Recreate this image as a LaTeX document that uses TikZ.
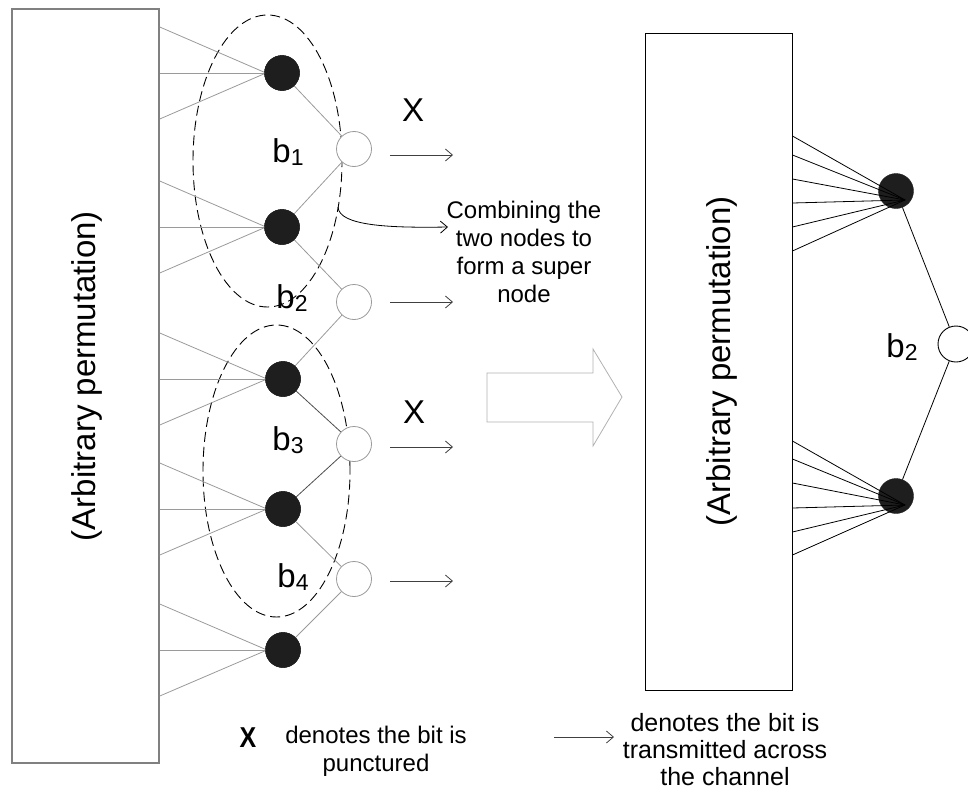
\documentclass[tikz,border=0pt]{standalone}
\usepackage{fontspec}
\setmainfont{Liberation Sans}
\usetikzlibrary{shapes.geometric,arrows.meta,calc}
\definecolor{nodeblk}{HTML}{1E1E1E}
\definecolor{lgray}{HTML}{9A9A9A}
\definecolor{rgray}{HTML}{808080}
\newcommand\bsub[2]{#1\raisebox{-3pt}{\fontsize{23}{23}\selectfont #2}}
\begin{document}
\begin{tikzpicture}[x=1pt,y=-1pt,
  blk/.style={circle,fill=nodeblk,draw=nodeblk,minimum size=35pt,inner sep=0pt},
  wht/.style={circle,draw=lgray,line width=0.8pt,fill=white,minimum size=35pt,inner sep=0pt},
  rwht/.style={circle,draw=black,line width=0.9pt,fill=white,minimum size=36pt,inner sep=0pt},
  glink/.style={draw=lgray,line width=0.8pt},
  klink/.style={draw=black,line width=0.8pt},
  supernode/.style={draw=black,ellipse,dash pattern=on 10pt off 5pt,line width=0.9pt,inner sep=0pt},
  sendarrow/.style={draw=black!75,line width=0.8pt,-{Straight Barb[length=7pt,width=12pt]}},
  lbl/.style={inner sep=0pt,font=\fontsize{33}{36}\selectfont},
  xlbl/.style={inner sep=0pt,font=\fontsize{33}{36}\selectfont},
  body/.style={inner sep=0pt,align=center,font=\fontsize{24}{28}\selectfont},
]
\useasboundingbox (0,0) rectangle (968,792);
\clip (0,0) rectangle (968,792);

% left permutation box
\node[draw=rgray,line width=1.5pt,minimum width=147pt,minimum height=754pt,inner sep=0pt] (L) at (85.5,386) {};
\node[rotate=90,inner sep=0pt,font=\fontsize{33}{36}\selectfont] (LT) at (87,376) {(Arbitrary permutation)};

% super node ellipses
\node[supernode,minimum width=149pt,minimum height=292pt] (E1) at (267.5,161) {};
\node[supernode,minimum width=147pt,minimum height=292pt] (E2) at (276.5,471) {};

% check (black) nodes
\node[blk] (k1) at (282,73) {};
\node[blk] (k2) at (282,227) {};
\node[blk] (k3) at (283,379) {};
\node[blk] (k4) at (283,509) {};
\node[blk] (k5) at (283,650) {};

% variable (white) nodes
\node[wht] (v1) at (354,149) {};
\node[wht] (v2) at (354,302) {};
\node[wht] (v3) at (354,444) {};
\node[wht] (v4) at (354,579) {};

% fan lines from permutation box
\foreach \i in {1,...,5} {
  \draw[glink] (L.east |- k\i) -- (k\i.west);
  \foreach \d in {-46,46} {
    \draw[glink] ($(L.east |- k\i)+(0,\d)$) -- ($(k\i.center)+(-16,0)$);
  }
}

% check -> variable links
\draw[glink] (k1) -- (v1);
\draw[glink] (k2) -- (v1);
\draw[glink] (k2) -- (v2);
\draw[glink] (k3) -- (v2);
\draw[klink,draw=black!70] (k3) -- (v3);
\draw[klink,draw=black!70] (k4) -- (v3);
\draw[glink] (k4) -- (v4);
\draw[glink] (k5) -- (v4);

% redraw black nodes over line ends
\foreach \i in {1,...,5} { \node[blk] at (k\i) {}; }

% labels
\node[lbl] (lb1) at (288,152) {\bsub{b}{1}};
\node[lbl] (lb2) at (292,298) {\bsub{b}{2}};
\node[lbl] (lb3) at (288,440) {\bsub{b}{3}};
\node[lbl] (lb4) at (293,577) {\bsub{b}{4}};
\node[xlbl] (x1) at (413,110) {X};
\node[xlbl] (x2) at (414,412) {X};

% transmission arrows
\foreach \i/\y in {1/155,2/302,3/447,4/581} {
  \coordinate (s\i) at (390,\y);
  \coordinate (t\i) at (453,\y);
  \draw[sendarrow] (s\i) -- (t\i);
}

% combining annotation
\node[body] (comb) at (524,252) {Combining the\\two nodes to\\form a super\\node};
\coordinate (cstart) at (338,207);
\coordinate (cend) at (448,227);
\draw[draw=black,line width=0.8pt,-{Straight Barb[length=7pt,width=12pt]}] (cstart) .. controls (339,226) and (390,228) .. (cend);

% big hollow arrow
\draw[draw=black!30,line width=0.8pt,fill=white] (487,373) -- (593,373) -- (593,349) -- (622,397) -- (593,446) -- (593,422) -- (487,422) -- cycle;

% right permutation box
\node[draw=black,line width=0.9pt,minimum width=147pt,minimum height=657pt,inner sep=0pt] (R) at (718.5,361.5) {};
\node[rotate=90,inner sep=0pt,font=\fontsize{33}{36}\selectfont] (RT) at (722,361.5) {(Arbitrary permutation)};

\node[blk] (r1) at (896,191) {};
\node[blk] (r2) at (896,496) {};
\node[rwht] (rv) at (956,344) {};
\coordinate (r1c) at ($(r1.center)+(9,9)$);
\coordinate (r2c) at ($(r2.center)+(9,9)$);
\foreach \y in {136,155,179,203,227,251} {
  \draw[klink] (R.east |- 0,\y) -- (r1c);
}
\foreach \y in {441,459,483,508,532,555} {
  \draw[klink] (R.east |- 0,\y) -- (r2c);
}
\draw[klink] (r1) -- (rv);
\draw[klink] (r2) -- (rv);
\node[lbl] (rb2) at (902,347) {\bsub{b}{2}};

% legend
\node[inner sep=0pt,font=\fontsize{25}{28}\selectfont\bfseries] (lx) at (248,738) {\scalebox{1}[1.15]{X}};
\node[body] (ltxt) at (376,751) {denotes the bit is\\punctured};
\coordinate (la) at (554,737);
\coordinate (lb) at (614,737);
\draw[sendarrow] (la) -- (lb);
\node[body,font=\fontsize{25}{27}\selectfont] (rtxt) at (725,750) {denotes the bit is\\transmitted across\\the channel};
\end{tikzpicture}
\end{document}
